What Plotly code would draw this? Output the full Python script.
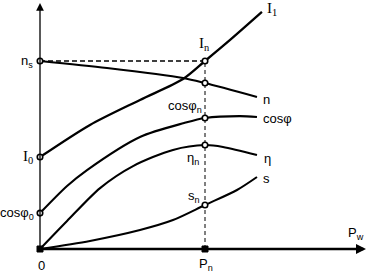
import plotly.graph_objects as go

# ---- data (relative units: P/Pn on x, quantity/ns on y) ----
Pn = 1.0
ns = 1.0
I1_x = [0, 0.303, 0.606, 0.867, 1.0, 1.152, 1.345]
I1_y = [0.489, 0.660, 0.793, 0.904, 1.0, 1.112, 1.261]
n_x = [0, 0.406, 0.867, 1.0, 1.315]
n_y = [1.0, 0.963, 0.910, 0.883, 0.809]
cos_x = [0, 0.164, 0.285, 0.606, 0.873, 1.0, 1.212, 1.315]
cos_y = [0.191, 0.335, 0.420, 0.596, 0.670, 0.697, 0.707, 0.702]
eta_x = [0, 0.164, 0.364, 0.564, 0.806, 1.0, 1.109, 1.315]
eta_y = [0, 0.149, 0.324, 0.441, 0.527, 0.553, 0.543, 0.500]
s_x = [0, 0.303, 0.606, 0.806, 1.0, 1.194, 1.315]
s_y = [0, 0.043, 0.101, 0.154, 0.234, 0.314, 0.383]

curve_names = ["I<sub>1</sub>", "n", "cosφ", "η", "s"]

W, H = 368, 273
# pixel mapping: origin at (40,249), Pn at 165 px, ns at 188 px
ml, mr, mt, mb = 30, 0, 0, 14
x_range = [(ml - 40) / 165, (W - mr - 40) / 165]
y_range = [(249 - (H - mb)) / 188, (249 - mt) / 188]
x_end = (366 - 40) / 165
y_end = (249 - 3) / 188

fig = go.Figure()

def at(xs, ys, xv):
    return ys[xs.index(xv)]

# dashed guide lines
fig.add_trace(go.Scatter(x=[0, Pn], y=[ns, ns], mode="lines",
                         line=dict(color="black", width=1.5, dash="5px,3px"),
                         hoverinfo="skip", cliponaxis=False))
fig.add_trace(go.Scatter(x=[Pn, Pn], y=[0, at(I1_x, I1_y, Pn)], mode="lines",
                         line=dict(color="black", width=1, dash="4px,3px"),
                         hoverinfo="skip", cliponaxis=False))

series = [(I1_x, I1_y, 2.3), (n_x, n_y, 2.1), (cos_x, cos_y, 2.1), (eta_x, eta_y, 2.1), (s_x, s_y, 2.1)]
for xs, ys, w in series:
    fig.add_trace(go.Scatter(x=xs, y=ys, mode="lines",
                             line=dict(color="black", width=w, shape="spline", smoothing=0.8),
                             hoverinfo="skip", cliponaxis=False))

# axes with arrows
fig.add_annotation(x=x_end, y=0, ax=0, ay=0, xref="x", yref="y", axref="x", ayref="y",
                   showarrow=True, arrowhead=2, arrowsize=0.8, arrowwidth=2.5, arrowcolor="black", text="")
fig.add_annotation(x=0, y=y_end, ax=0, ay=0, xref="x", yref="y", axref="x", ayref="y",
                   showarrow=True, arrowhead=2, arrowsize=1.2, arrowwidth=1.3, arrowcolor="black", text="")

# markers (open circles on curves, filled on the P axis)
mx = [0, 0, 0, Pn, Pn, Pn, Pn, Pn]
my = [ns, I1_y[0], cos_y[0],
      at(I1_x, I1_y, Pn), at(n_x, n_y, Pn), at(cos_x, cos_y, Pn),
      at(eta_x, eta_y, Pn), at(s_x, s_y, Pn)]
fig.add_trace(go.Scatter(x=mx, y=my, mode="markers",
                         marker=dict(symbol="circle", size=5.5, color="white",
                                     line=dict(color="black", width=1.6)),
                         hoverinfo="skip", cliponaxis=False))
fig.add_trace(go.Scatter(x=[0, Pn], y=[0, 0], mode="markers",
                         marker=dict(symbol="square", size=6, color="black",
                                     line=dict(color="black", width=1)),
                         hoverinfo="skip", cliponaxis=False))

sans = dict(family="Liberation Sans, Arial", size=13, color="black")
serif = dict(family="Liberation Serif, Times New Roman", size=15, color="black")

def label(text, x, y, font, xanchor="center", xshift=0, yshift=0):
    fig.add_annotation(x=x, y=y, xref="x", yref="y", text=text, showarrow=False,
                       font=font, xanchor=xanchor, yanchor="middle",
                       xshift=xshift, yshift=yshift)

# curve end labels
label(curve_names[0], I1_x[-1], I1_y[-1], serif, "left", 3, 3)
label(curve_names[1], n_x[-1], n_y[-1], sans, "left", 4, -3)
label(curve_names[2], cos_x[-1], cos_y[-1], sans, "left", 4, -1)
label(curve_names[3], eta_x[-1], eta_y[-1], sans, "left", 5, -3)
label(curve_names[4], s_x[-1], s_y[-1], sans, "left", 4, -1)

# rated point labels
label("I<sub>n</sub>", Pn, at(I1_x, I1_y, Pn), serif, "center", -1, 17)
label("cosφ<sub>n</sub>", Pn, at(cos_x, cos_y, Pn), sans, "right", -1, 11)
label("η<sub>n</sub>", Pn, at(eta_x, eta_y, Pn), sans, "center", -12, -13)
label("s<sub>n</sub>", Pn, at(s_x, s_y, Pn), sans, "center", -11, 9)
label("P<sub>n</sub>", Pn, 0, sans, "center", 1, -15)
label("0", 0, 0, sans, "center", 1, -16)
label("P<sub>w</sub>", x_end, 0, sans, "center", -10, 16)

# y-axis labels
label("n<sub>s</sub>", 0, ns, sans, "right", -5, 0)
label("I<sub>0</sub>", 0, I1_y[0], serif, "right", -5, 0)
label("cosφ<sub>0</sub>", 0, cos_y[0], sans, "right", -4, 0)

fig.update_layout(
    width=W, height=H, margin=dict(l=ml, r=mr, t=mt, b=mb),
    paper_bgcolor="white", plot_bgcolor="white", showlegend=False,
    xaxis=dict(range=x_range, visible=False, fixedrange=True),
    yaxis=dict(range=y_range, visible=False, fixedrange=True),
)

fig.write_html("out.html")
